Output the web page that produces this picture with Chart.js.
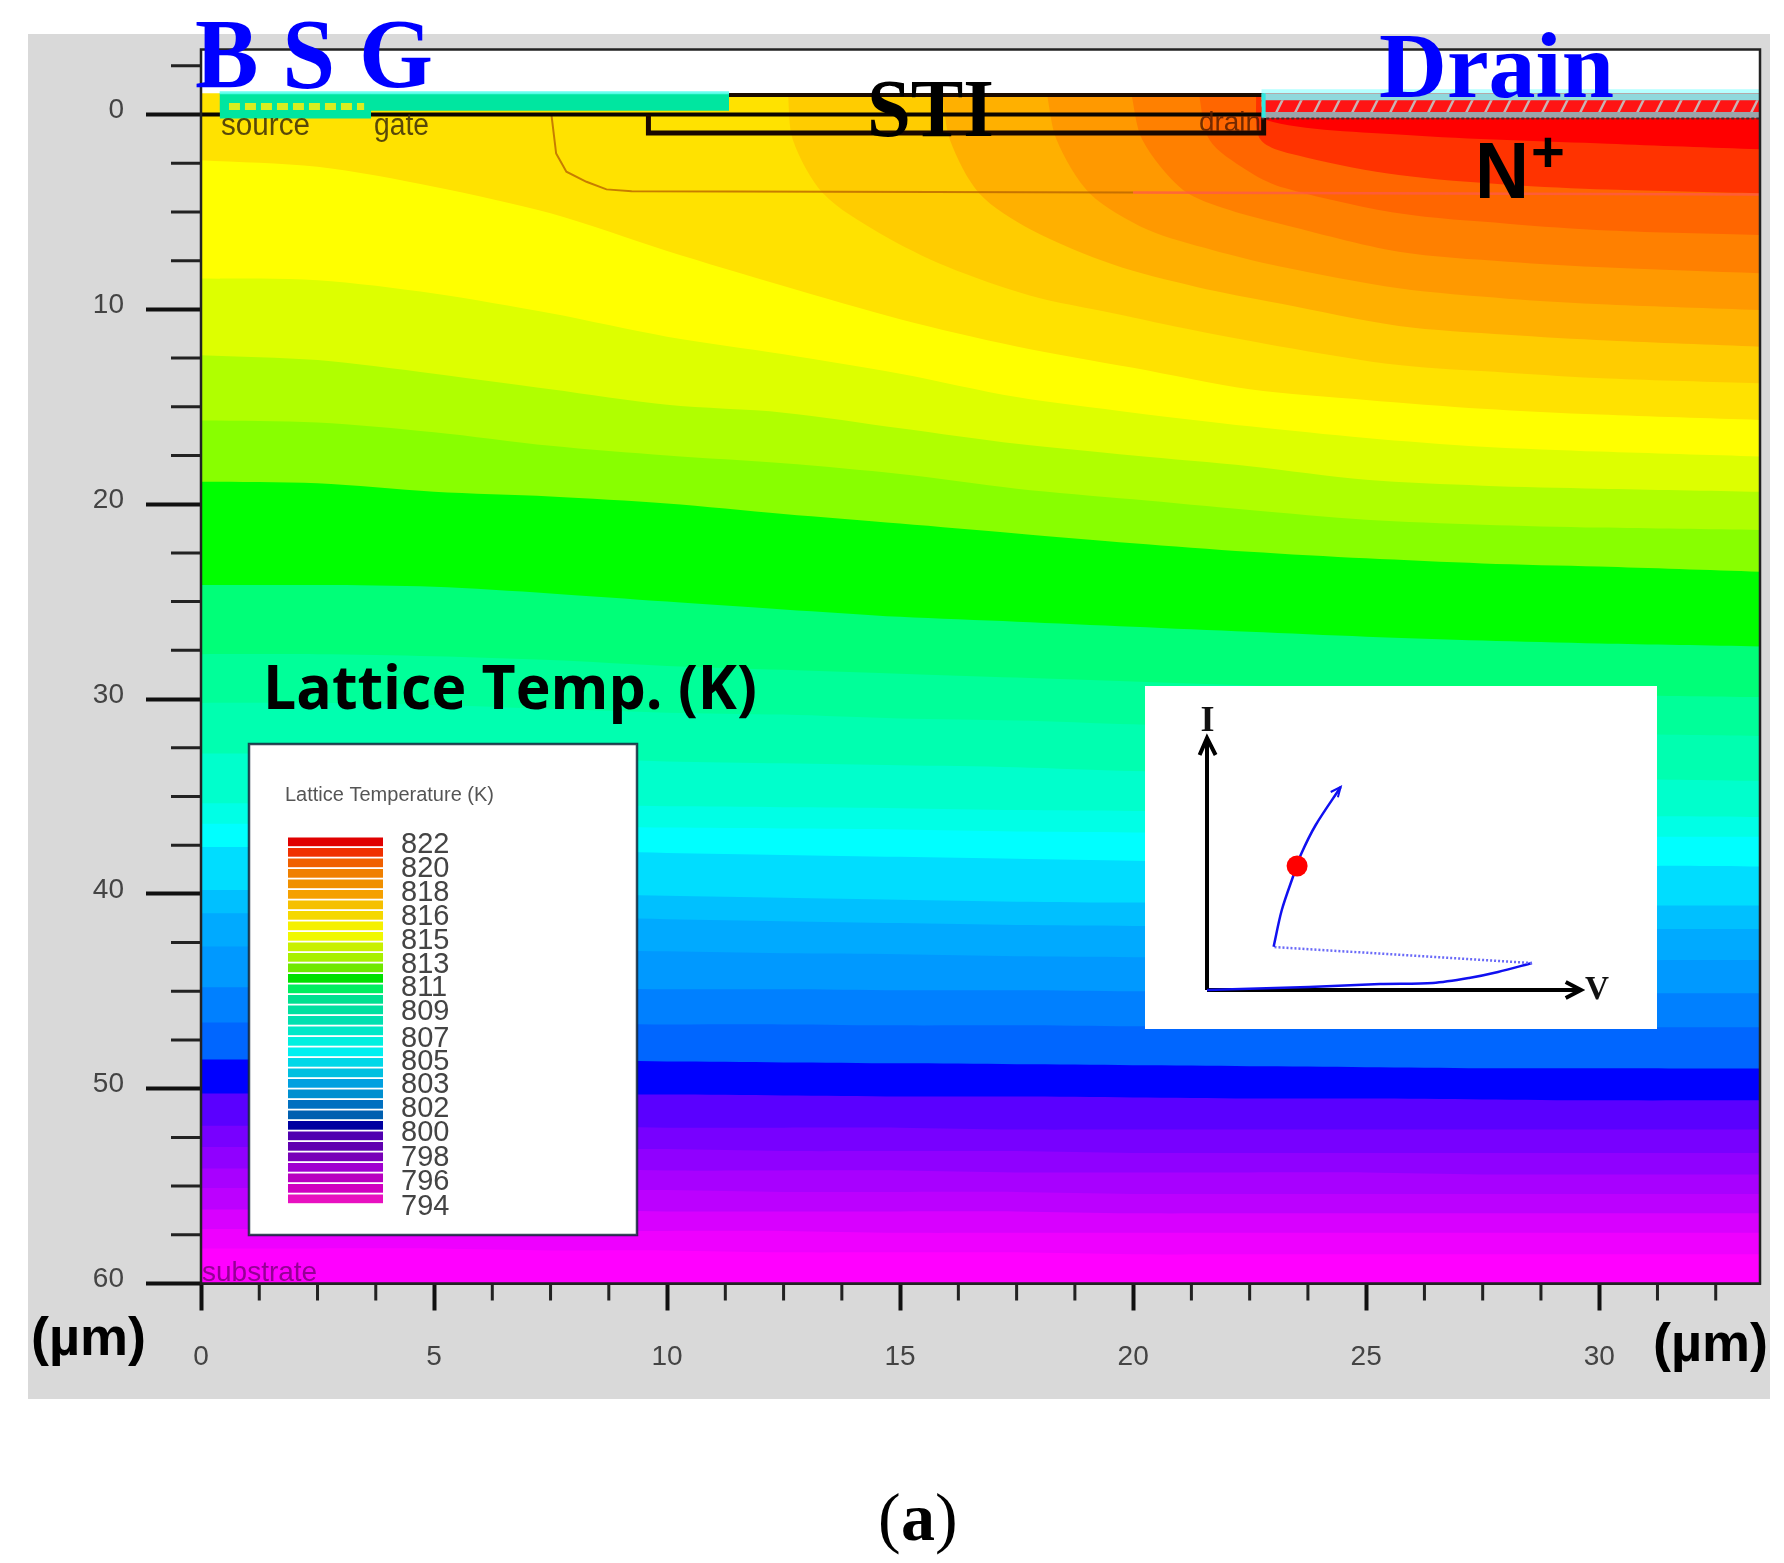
<!DOCTYPE html>
<html>
<head>
<meta charset="utf-8">
<style>html,body{margin:0;padding:0;background:#fff}canvas{display:block}</style>
<script src="https://cdn.jsdelivr.net/npm/chart.js@4"></script>
</head>
<body>
<canvas id="c" width="1784" height="1563"></canvas>
<script>
// ---- contour stations (µm along the device) ----
const stations=[0,2.5,5,7.5,10,12.5,15,17.5,20,22.5,25,27.5,30,33.5];
// ---- contour depths (µm), coldest to hottest ----
const bottomEdge=[60,60,60,60,60,60,60,60,60,60,60,60,60,60];
const violet1=[58.2,58.2,58.2,58.3,58.3,58.4,58.4,58.4,58.5,58.5,58.5,58.5,58.5,58.5];
const violet2=[57.2,57.2,57.2,57.3,57.3,57.3,57.4,57.4,57.4,57.4,57.4,57.4,57.4,57.4];
const violet3=[56.2,56.2,56.2,56.2,56.3,56.3,56.3,56.3,56.4,56.4,56.4,56.4,56.4,56.4];
const violet4=[55.1,55.1,55.1,55.2,55.2,55.3,55.3,55.3,55.4,55.4,55.4,55.4,55.4,55.4];
const violet5=[54.1,54.1,54.1,54.1,54.2,54.2,54.2,54.3,54.3,54.3,54.3,54.4,54.4,54.4];
const violet6=[53.0,53.0,53.0,53.1,53.1,53.2,53.2,53.2,53.3,53.3,53.3,53.3,53.3,53.3];
const violet7=[51.9,51.9,51.9,51.9,52.0,52.0,52.0,52.1,52.1,52.1,52.1,52.1,52.1,52.1];
const blueBottom=[50.25,50.25,50.25,50.3,50.3,50.35,50.4,50.4,50.45,50.5,50.5,50.55,50.6,50.6];
const blueTop=[48.5,48.5,48.5,48.55,48.6,48.65,48.7,48.75,48.8,48.85,48.9,48.95,48.95,48.97];
const azure1=[46.6,46.6,46.6,46.65,46.7,46.7,46.75,46.75,46.8,46.8,46.8,46.85,46.85,46.85];
const azure2=[44.8,44.8,44.85,44.85,44.9,44.9,44.95,44.95,45.0,45.0,45.05,45.05,45.1,45.1];
const azure3=[42.7,42.7,42.75,42.85,42.95,43.05,43.1,43.2,43.25,43.3,43.35,43.35,43.4,43.4];
const azure4=[41.0,41.0,41.05,41.15,41.3,41.4,41.5,41.6,41.65,41.7,41.75,41.8,41.8,41.8];
const azure5=[39.8,39.8,39.85,39.95,40.1,40.2,40.3,40.4,40.45,40.5,40.55,40.6,40.6,40.6];
const cyanLow=[37.6,37.6,37.65,37.75,37.9,38.0,38.1,38.2,38.3,38.4,38.45,38.5,38.55,38.6];
const cyanHigh=[36.4,36.4,36.45,36.5,36.6,36.65,36.7,36.8,36.85,36.9,36.95,37.0,37.05,37.07];
const spring4=[35.35,35.35,35.4,35.45,35.5,35.55,35.6,35.7,35.75,35.8,35.9,35.95,36.0,36.05];
const spring3=[32.8,32.8,32.9,33.0,33.2,33.3,33.4,33.5,33.7,33.8,33.9,34.0,34.1,34.2];
const spring2=[30.2,30.2,30.3,30.5,30.7,30.8,31.0,31.1,31.3,31.5,31.6,31.7,31.8,31.9];
const spring1=[27.7,27.7,27.8,28.0,28.3,28.5,28.7,28.9,29.1,29.3,29.5,29.7,29.8,29.9];
const greenBottom=[24.15,24.15,24.24,24.58,25.0,25.4,25.78,26.03,26.29,26.55,26.8,27.0,27.15,27.3];
const greenTop=[18.85,18.93,19.36,19.6,19.96,20.5,20.99,21.5,22.0,22.44,22.78,23.04,23.2,23.47];
const chartBottom=[15.7,15.8,16.3,17.0,17.5,17.9,18.45,19.2,19.75,20.3,20.8,21.05,21.2,21.33];
const limeBottom=[12.35,12.6,13.3,14.1,14.9,15.3,16.1,16.9,17.5,18.05,18.75,19.05,19.2,19.36];
const yellowBottom=[8.41,8.5,9.18,10.2,11.4,12.3,13.3,14.5,15.3,16.0,16.6,17.05,17.3,17.56];
const yellowTop=[2.34,2.68,3.7,5.07,7.0,8.8,10.5,11.9,13.0,14.1,14.65,15.1,15.4,15.68];
// ---- colours of the band just above each contour ----
const coldColours=['#ff00ff','#ee00ff','#d800ff','#bc00ff','#a800ff','#9000ff','#7800ff','#5a00ff','#0000ff','#0066ff','#0080ff','#0099ff','#00aaff','#00c0ff','#00ddff','#00ffff','#00ffe6','#00ffcc','#00ffb0','#00ff99','#00ff78','#00ff00','#88ff00','#b0ff00','#ddff00','#ffff00','#ffe200'];
// ---- hot arcs rising to the surface near the drain ----
const arc1X=[12.59,12.7,13.35,14.57,16.0,17.8,19.57,21.36,23.15,25.7,28.03,30.19,33.5];
const arc1Y=[-1.2,1.3,4.05,6.1,7.8,9.3,10.2,11.1,11.9,12.86,13.25,13.55,13.8];
const arc2X=[15.9,16.07,16.7,17.8,19.57,21.36,23.15,25.7,28.03,30.19,33.5];
const arc2Y=[-1.2,1.31,4.05,5.9,7.7,8.85,9.7,10.85,11.3,11.6,11.92];
const arc3X=[18.14,18.36,19.07,20.3,21.7,23.15,25.7,28.03,30.19,33.5];
const arc3Y=[-1.2,1.31,4.05,5.9,6.95,7.8,8.92,9.45,9.75,10.04];
const arc4X=[19.95,20.2,21.07,22.07,23.15,25.7,28.03,30.19,33.5];
const arc4Y=[-1.2,1.31,3.87,4.9,5.6,7.04,7.55,7.85,8.15];
const arc5X=[21.4,21.64,22.43,23.15,25.7,28.03,30.19,33.5];
const arc5Y=[-1.2,1.31,2.85,3.7,5.07,5.6,5.95,6.19];
const arc6X=[22.63,22.74,23.71,25.7,28.03,30.19,33.5];
const arc6Y=[-1.2,1.31,2.2,3.1,3.6,3.85,4.05];
const arc7X=[22.8,22.85,25.87,30.19,33.5];
const arc7Y=[-1.2,0.28,1.05,1.5,1.79];
const hotColours=['#ffcc00','#ffb000','#ff9900','#ff8000','#ff6600','#ff3300','#ff0000'];
// ---- device outline and junction (µm) ----
const junctionX=[7.52,7.62,7.84,8.27,8.7,9.24,20];
const junctionY=[0.03,2.0,2.93,3.45,3.84,3.93,4.0];
const junctionRightX=[20,33.5];
const junctionRightY=[4.0,4.1];
const stiX=[9.6,9.6,22.8,22.8];
const stiY=[0,0.95,0.95,0];
const surfaceX=[0,22.8];
const surfaceY=[0,0];
const oxideTopX=[11.3,22.8];
const oxideTopY=[-1.0,-1.0];
// ---- inset I-V sketch (arbitrary units) ----
const snapV=[0,102,173,226,262,291,325];
const snapI=[0,3,6,7,12,18,27];
const jumpV=[325,66.6];
const jumpI=[27,43];
const riseV=[66.6,74.8,87.3,93.7,108.7,133.7];
const riseI=[43.3,80,117,135,165,203];
const opV=[90.1];
const opI=[124];
// ---- axis labels and legend ----
const legendLabels=['822','820','818','816','815','813','811','809','807','805','803','802','800','798','796','794'];
const legendColours=['#e00000','#f03000','#f06000','#f08000','#f09000','#f5a000','#f5c000','#f5d800','#f5f000','#f0f800','#c8f000','#a8f000','#70e800','#00e000','#00ee60','#00e090','#00e0a0','#00e0b0','#00e8c8','#00f0e0','#00f0f0','#00d8e8','#00c0e0','#00a0e0','#0090d0','#0070c0','#0060b0','#0000a0','#5000b0','#6000b0','#7800b8','#a000d0','#b800c0','#d000c0','#e810c0'];

const coldLines=[bottomEdge,violet1,violet2,violet3,violet4,violet5,violet6,violet7,blueBottom,blueTop,azure1,azure2,azure3,azure4,azure5,cyanLow,cyanHigh,spring4,spring3,spring2,spring1,greenBottom,greenTop,chartBottom,limeBottom,yellowBottom,yellowTop];
const hotLines=[[arc1X,arc1Y],[arc2X,arc2Y],[arc3X,arc3Y],[arc4X,arc4Y],[arc5X,arc5Y],[arc6X,arc6Y],[arc7X,arc7Y]];

const pts=(xs,ys)=>xs.map((x,i)=>({x,y:ys[i]}));
const base={pointRadius:0,showLine:true,borderWidth:0,xAxisID:'x',yAxisID:'y'};
const band=(xs,ys,c)=>({...base,data:pts(xs,ys),fill:'end',backgroundColor:c,borderColor:c,tension:0.3});
const stroke=(xs,ys,c,w,extra)=>({...base,data:pts(xs,ys),fill:false,borderColor:c,borderWidth:w,...extra});
const rect=(x0,x1,y0,y1,c,extra)=>({...base,data:pts([x0,x1],[y0,y0]),fill:{value:y1},backgroundColor:c,...extra});
const insetAxes={xAxisID:'xI',yAxisID:'yI'};

function hatch(){
  const p=document.createElement('canvas');p.width=19;p.height=14;
  const g=p.getContext('2d');
  g.fillStyle='#ff1414';g.fillRect(0,0,19,14);
  g.strokeStyle='#c8b4b4';g.lineWidth=2.5;
  g.beginPath();g.moveTo(3,15);g.lineTo(11,-1);g.stroke();
  return g.createPattern(p,'repeat');
}

const ds=[];
coldLines.forEach((l,i)=>ds.push(band(stations,l,coldColours[i])));
hotLines.forEach((l,i)=>ds.push(band(l[0],l[1],hotColours[i])));
// white space above the device
ds.push(rect(0,33.5,-1.1,-3.5,'#ffffff'));
// junction
ds.push(stroke(junctionX,junctionY,'rgba(185,100,0,0.8)',2));
ds.push(stroke(junctionRightX,junctionRightY,'rgba(255,90,70,0.8)',2.5));
// contacts
ds.push(stroke(oxideTopX,oxideTopY,'#1a0a00',4));
ds.push(stroke(surfaceX,surfaceY,'#0a0500',4));
ds.push(stroke(stiX,stiY,'#1a0800',5));
ds.push(rect(0.4,11.33,-0.2,-1.1,'#00e6a0'));
ds.push(rect(0.4,3.65,0.2,-1.1,'#00e6a0'));
ds.push(stroke([0.6,3.5],[-0.42,-0.42],'#d8ee20',7,{borderDash:[11,5]}));
ds.push(stroke([0.4,11.33],[-1.12,-1.12],'rgba(90,255,240,0.9)',3));
ds.push(rect(22.75,33.5,-1.05,-1.3,'rgba(120,255,255,0.55)'));
ds.push(rect(22.75,33.5,-0.13,-0.74,hatch()));
ds.push(rect(22.75,33.5,0.18,-0.13,'#9aa6aa'));
ds.push(rect(22.75,33.5,-0.74,-1.05,'#8fd8dc'));
ds.push(stroke([22.75,33.5],[0.2,0.2],'#4a3030',2,{borderDash:[3,2]}));
ds.push(stroke([22.8,22.8],[-1.1,0.15],'#30e8e0',4));
// inset
ds.push({...rect(-62,450,-39,304,'#ffffff'),...insetAxes});
ds.push({...stroke([0,374],[0,0],'#000',4),...insetAxes});
ds.push({...stroke([0,0],[0,252],'#000',4),...insetAxes});
ds.push({...stroke([358.7,374,358.7],[8,0,-8],'#000',4),...insetAxes});
ds.push({...stroke([-7.4,0,8.6],[235,252,235],'#000',4),...insetAxes});
ds.push({...stroke(snapV,snapI,'#1010f0',2.5,{tension:0.3}),...insetAxes});
ds.push({...stroke(jumpV,jumpI,'#6a6af8',2.5,{borderDash:[2,2]}),...insetAxes});
ds.push({...stroke(riseV,riseI,'#1010f0',2.5,{tension:0.3}),...insetAxes});
ds.push({...stroke([123.7,133.7,130.9],[198,203,192.7],'#1010f0',2),...insetAxes});
ds.push({...base,...insetAxes,showLine:false,data:pts(opV,opI),pointRadius:10.5,backgroundColor:'#ff0000',borderWidth:0});
ds.reverse(); // Chart.js paints the first dataset last

const overlay={
  id:'overlay',
  beforeDraw(ch){
    const g=ch.ctx;
    g.save();
    g.fillStyle='#fff';g.fillRect(0,0,1784,1563);
    g.fillStyle='#d9d9d9';g.fillRect(28,34,1742,1365);
    g.restore();
  },
  afterDatasetsDraw(ch){
    const g=ch.ctx,a=ch.chartArea,sx=ch.scales.x,sy=ch.scales.y;
    g.save();
    g.strokeStyle='#222';g.lineWidth=2.5;
    g.strokeRect(a.left,a.top,a.right-a.left,a.bottom-a.top);
    g.strokeStyle='#222';g.lineWidth=3;g.beginPath();
    for(let v=1.25;v<33.4;v+=1.25){ if(Math.abs(v/5-Math.round(v/5))<1e-6)continue;
      const p=sx.getPixelForValue(v);g.moveTo(p,a.bottom);g.lineTo(p,a.bottom+17);}
    for(let v=-2.5;v<60;v+=2.5){ if(Math.abs(v/10-Math.round(v/10))<1e-6)continue;
      const p=sy.getPixelForValue(v);g.moveTo(a.left-30,p);g.lineTo(a.left,p);}
    g.stroke();
    const T=(s,x,y,font,col,w,align)=>{g.font=font;g.fillStyle=col;g.textAlign=align||'left';g.textBaseline='alphabetic';
      if(w)g.fillText(s,x,y,w);else g.fillText(s,x,y);};
    const serifB='bold %px "Liberation Serif"',sans='%px "Liberation Sans"',sansB='bold %px "Liberation Sans"';
    const f=(t,n)=>t.replace('%',n);
    T('source',221,135,f(sans,31),'rgba(70,55,10,0.9)',89);
    T('gate',374,135,f(sans,31),'rgba(70,55,10,0.9)',55);
    T('drain',1199,131,f(sans,28),'rgba(90,30,0,0.85)',62);
    T('substrate',202,1281,f(sans,28),'rgba(130,0,130,0.85)',118);
    T('B S G',195,87,f(serifB,100),'#0000ff',238);
    T('Drain',1379,97,f(serifB,94),'#0000ff',237);
    T('STI',867,136,f(serifB,82),'#000',127);
    T('N',1475,198,f(sansB,80),'#000',54);
    T('+',1531,172,f(sansB,58),'#000',35);
    T('Lattice Temp. (K)',263,709,f('bold %px "Open Sans"',60),'#000',494);
    T('(µm)',31,1355,f(sansB,54),'#000',118);
    T('(µm)',1653,1361,f(sansB,54),'#000',116);
    T('(',878,1540,f('%px "Liberation Serif"',68),'#000');
    T('a',901,1540,f(serifB,68),'#000');
    T(')',935,1540,f('%px "Liberation Serif"',68),'#000');
    T('I',1207.5,731,f(serifB,36),'#111',null,'center');
    T('V',1585,999,f(serifB,34),'#111',24);
    g.fillStyle='#fff';g.fillRect(249,744,388,491);
    g.strokeStyle='rgba(20,40,60,0.85)';g.lineWidth=2.5;g.strokeRect(249,744,388,491);
    T('Lattice Temperature (K)',285,801,f(sans,20),'#555',212);
    const n=legendColours.length,top=837.5,bot=1205,h=(bot-top)/n;
    legendColours.forEach((c,i)=>{g.fillStyle=c;g.fillRect(288,top+i*h,95,h-1.8);});
    const yL=[843,867,891,915,939,963,986,1010,1037,1060,1083,1107,1131,1156,1180,1205];
    legendLabels.forEach((s,i)=>T(s,401,yL[i]+10,f(sans,29),'#444',49));
    g.restore();
  }
};

new Chart(document.getElementById('c'),{
  type:'scatter',
  data:{datasets:ds},
  plugins:[overlay],
  options:{
    responsive:false,animation:false,
    layout:{padding:{left:0,right:24,top:49.5,bottom:0}},
    plugins:{legend:{display:false},tooltip:{enabled:false}},
    scales:{
      x:{type:'linear',min:0,max:33.45,
        afterFit(s){s.height=279.5;},
        afterBuildTicks(s){s.ticks=s.ticks.filter(t=>t.value%5===0);},
        grid:{drawOnChartArea:false,drawTicks:true,tickLength:27,tickWidth:4,tickColor:'#111'},
        border:{display:true,color:'#222',width:2},
        ticks:{stepSize:5,autoSkip:false,maxRotation:0,includeBounds:false,padding:30,color:'#444',font:{family:'"Liberation Sans"',size:28}}},
      y:{type:'linear',reverse:true,min:-3.34,max:60,
        afterFit(s){s.width=201;},
        afterBuildTicks(s){s.ticks=s.ticks.filter(t=>t.value>=0&&t.value%10===0);},
        grid:{drawOnChartArea:false,drawTicks:true,tickLength:55,tickWidth:4,tickColor:'#111'},
        border:{display:true,color:'#222',width:2},
        ticks:{stepSize:10,autoSkip:false,includeBounds:false,padding:22,color:'#444',
          font:{family:'"Liberation Sans"',size:28,lineHeight:'8px'},
          callback:v=>[String(v),'']}},
      xI:{type:'linear',display:false,min:-1006,max:553},
      yI:{type:'linear',display:false,min:-293.5,max:940.5}
    }
  }
});
</script>
</body>
</html>
